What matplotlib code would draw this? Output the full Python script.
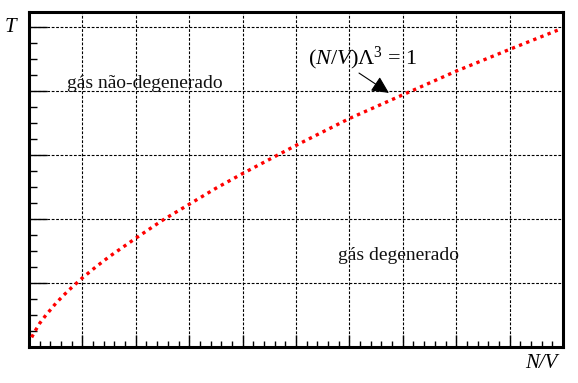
import matplotlib
matplotlib.use("Agg")
import matplotlib.pyplot as plt
from matplotlib.ticker import MultipleLocator

RED = "#ff0000"

# curve: T vs N/V
nv = [0.05, 0.1, 0.15, 0.2, 0.3, 0.4, 0.5, 0.65, 0.8, 1.0, 1.25, 1.5, 2.0, 2.5,
      3.0, 3.5, 4.0, 5.0, 6.0, 7.0, 8.0, 9.0, 9.9]
temp = [0.15, 0.23, 0.30, 0.37, 0.48, 0.58, 0.68, 0.81, 0.93, 1.08, 1.25, 1.41, 1.70, 1.98,
        2.23, 2.48, 2.71, 3.15, 3.57, 3.94, 4.31, 4.65, 4.95]

label_hot = "gás não-degenerado"
label_cold = "gás degenerado"

plt.rcParams["mathtext.fontset"] = "custom"
plt.rcParams["mathtext.rm"] = "Liberation Serif"
plt.rcParams["mathtext.it"] = "Liberation Serif:italic"

fig = plt.figure(figsize=(5.78, 3.83), dpi=100)
ax = fig.add_axes([29 / 578, 1 - 347 / 383, 534 / 578, 335 / 383])

ax.plot(nv, temp, color=RED, linewidth=2.4, dashes=(1, 1.3), dash_capstyle="butt", zorder=3)

ax.set_xlim(0, 10)
ax.set_ylim(0, 5.234)
ax.xaxis.set_major_locator(MultipleLocator(1))
ax.xaxis.set_minor_locator(MultipleLocator(0.2))
ax.yaxis.set_major_locator(MultipleLocator(1))
ax.yaxis.set_minor_locator(MultipleLocator(0.25))
ax.set_xticklabels([])
ax.set_yticklabels([])
ax.tick_params(axis="x", which="major", direction="in", length=9, width=1, color="black")
ax.tick_params(axis="x", which="minor", direction="in", length=4, width=1, color="black")
ax.tick_params(axis="y", which="major", direction="in", length=13, width=1, color="black")
ax.tick_params(axis="y", which="minor", direction="in", length=6, width=1, color="black")

ax.grid(True, which="major", color="black", linewidth=0.8, dashes=(2.5, 1.5))
ax.set_axisbelow(True)

for side in ["top", "right", "left", "bottom"]:
    ax.spines[side].set_linewidth(2.2)

ax.text(0.71, 4.05, label_hot, fontsize=14, family="Liberation Serif",
        ha="left", va="baseline", color="#111111")
ax.text(5.79, 1.36, label_cold, fontsize=14, family="Liberation Serif",
        ha="left", va="baseline", color="#111111")

ax.text(5.22, 4.41, r"$(N/V)\Lambda^{3}$ = $\mathit{1}$", fontsize=16,
        family="Liberation Serif", ha="left", va="baseline", zorder=4)
ax.annotate("", xy=(6.74, 3.97), xytext=(6.18, 4.28),
            arrowprops=dict(arrowstyle="-|>,head_length=0.65,head_width=0.32",
                            color="black", lw=0.8, mutation_scale=16,
                            shrinkA=0, shrinkB=0),
            zorder=4)

fig.text(10 / 578, 1 - 27 / 383, "T", fontsize=15, family="Liberation Serif",
         style="italic", ha="center", va="center")
fig.text(541 / 578, 1 - 364 / 383, "N/V", fontsize=15, family="Liberation Serif",
         style="italic", ha="center", va="center")

fig.savefig("out.png", dpi=100)
